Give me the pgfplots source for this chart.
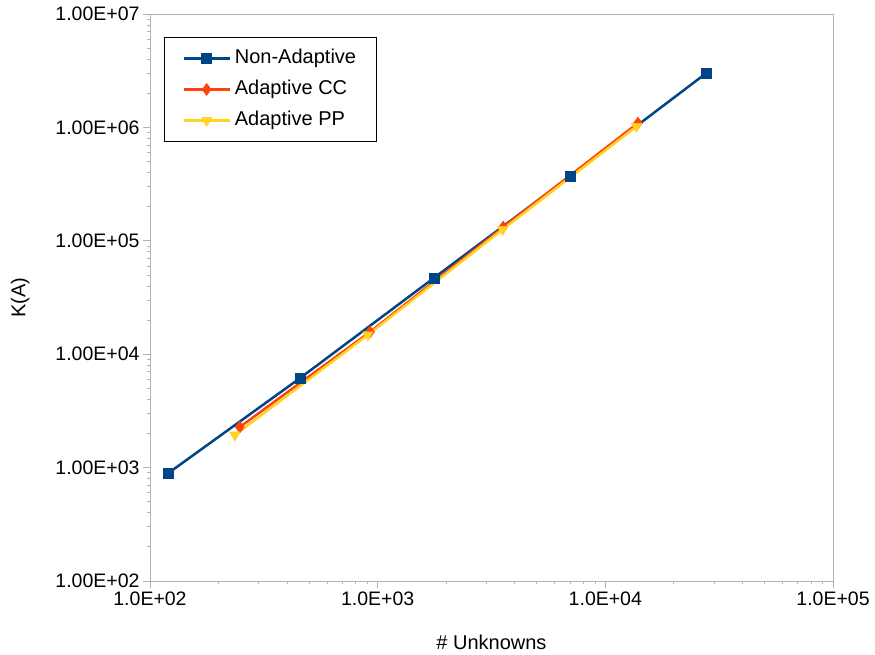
\documentclass[border=0pt]{standalone}
\usepackage{pgfplots}
\pgfplotsset{compat=1.18}
\usepackage{fontspec}
\setmainfont{Liberation Sans}
\definecolor{cblue}{HTML}{004586}
\definecolor{corange}{HTML}{FF420E}
\definecolor{cyellow}{HTML}{FFD320}
\definecolor{cgray}{HTML}{B3B3B3}
\begin{document}
\begin{tikzpicture}
\begin{axis}[
  name=ax,
  scale only axis,
  width=683pt, height=567pt,
  xmode=log, ymode=log,
  xmin=100, xmax=100000, ymin=100, ymax=10000000,
  axis line style={cgray, line width=0.8pt},
  tick style={cgray, line width=0.8pt},
  tick align=outside,
  tick pos=left,
  major tick length=7pt,
  minor tick num=0,
  xtick={100,1000,10000,100000},
  xticklabels={1.0E+02,1.0E+03,1.0E+04,1.0E+05},
  ytick={100,1000,10000,100000,1000000,10000000},
  yticklabels={1.00E+02,1.00E+03,1.00E+04,1.00E+05,1.00E+06,1.00E+07},
  ticklabel style={font=\fontsize{19.5}{22}\selectfont, text=black},
  xlabel={\# Unknowns}, ylabel={K(A)},
  label style={font=\fontsize{20}{24}\selectfont},
  xlabel style={at={(axis description cs:0.5,-0.1076)}, anchor=center},
  ylabel style={at={(axis description cs:-0.190,0.5)}, anchor=center},
  legend style={at={(axis description cs:0.0205,0.9594)}, anchor=north west, draw=black, line width=0.8pt,
    font=\fontsize{20}{24}\selectfont, inner xsep=18pt, inner ysep=10pt, row sep=9pt,
    nodes={text height=14pt, text depth=4pt},
    /tikz/every odd column/.append style={column sep=2pt},
    cells={anchor=west}},
  legend cell align=left,
  legend image code/.code={\draw[#1, line width=2.5pt] (0pt,0pt) -- (46pt,0pt); \draw[#1, mark repeat=2, mark phase=2] plot coordinates {(0pt,0pt) (23pt,0pt) (46pt,0pt)};},
]
\addplot[cblue, line width=2.5pt, mark=square*, mark size=5pt, mark options={solid, line width=0.5pt}]
  coordinates {(120,890) (456,6150) (1766,47000) (7000,370000) (27700,3000000)};
\addlegendentry{Non-Adaptive}
\addplot[corange, line width=2.5pt, mark=diamond*, mark size=6pt, mark options={solid, line width=0.5pt}]
  coordinates {(248,2280) (925,15700) (3560,132000) (13900,1090000)};
\addlegendentry{Adaptive CC}
\addplot[cyellow, line width=2.5pt, mark=triangle*, mark size=6pt, mark options={solid, rotate=180, line width=0.5pt}]
  coordinates {(236,1940) (906,14800) (3540,126000) (13700,1020000)};
\addlegendentry{Adaptive PP}
\end{axis}
\path[use as bounding box] ([xshift=-150pt,yshift=-74pt]ax.south west) rectangle ([xshift=42pt,yshift=14pt]ax.north east);
\end{tikzpicture}
\end{document}
